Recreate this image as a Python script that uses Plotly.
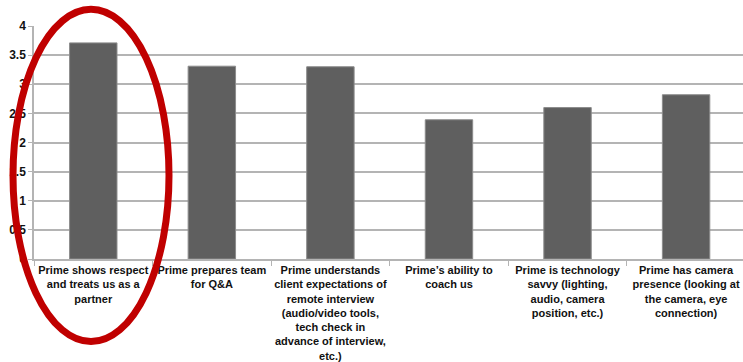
import plotly.graph_objects as go

# Survey items (wrapped for the category axis) and their average ratings
categories = [
    "Prime shows respect<br>and treats us as a<br>partner",
    "Prime prepares team<br>for Q&A",
    "Prime understands<br>client expectations of<br>remote interview<br>(audio/video tools,<br>tech check in<br>advance of interview,<br>etc.)",
    "Prime’s ability to<br>coach us",
    "Prime is technology<br>savvy (lighting,<br>audio, camera<br>position, etc.)",
    "Prime has camera<br>presence (looking at<br>the camera, eye<br>connection)",
]
scores = [3.71, 3.31, 3.30, 2.39, 2.60, 2.82]

y_ticks = [0, 0.5, 1, 1.5, 2, 2.5, 3, 3.5, 4]
y_tick_labels = ["0", "0.5", "1", "1.5", "2", "2.5", "3", "3.5", "4"]

W, H = 743, 362
L, R, T, B = 34, 0, 26, 99

fig = go.Figure(
    go.Bar(
        x=categories,
        y=scores,
        width=0.4,
        marker=dict(color="#5f5f5f", line=dict(color="#8c8c8c", width=1)),
        hoverinfo="skip",
    )
)

grid = "#b4b4b4"
fig.update_layout(
    width=W,
    height=H,
    margin=dict(l=L, r=R, t=T, b=B, pad=0),
    paper_bgcolor="white",
    plot_bgcolor="white",
    showlegend=False,
    font=dict(family="Liberation Sans, Arial, sans-serif", color="#111111"),
    xaxis=dict(
        type="category",
        tickson="boundaries",
        ticks="outside",
        ticklen=5,
        tickcolor=grid,
        tickangle=0,
        tickfont=dict(size=11, weight="bold"),
        showline=True,
        linecolor=grid,
        linewidth=1.5,
        showgrid=False,
        range=[-0.5, 5.48],
    ),
    yaxis=dict(
        range=[0, 4],
        tickvals=y_ticks,
        ticktext=y_tick_labels,
        tickfont=dict(size=12, weight="bold"),
        ticks="outside",
        ticklen=4,
        tickcolor=grid,
        showgrid=True,
        gridcolor=grid,
        gridwidth=1.5,
        showline=True,
        linecolor=grid,
        linewidth=1.5,
        zeroline=False,
    ),
)

# Red ellipse highlighting the top-rated item
plot_w = W - L - R
plot_h = H - T - B
def px_to_paper(px, py):
    return (px - L) / plot_w, (H - B - py) / plot_h

x0, y0 = px_to_paper(13, 347)
x1, y1 = px_to_paper(169, 9)
fig.add_shape(
    type="circle",
    xref="paper",
    yref="paper",
    x0=x0, x1=x1, y0=y0, y1=y1,
    line=dict(color="#c00000", width=7),
    layer="above",
)

fig.write_html("out.html")
